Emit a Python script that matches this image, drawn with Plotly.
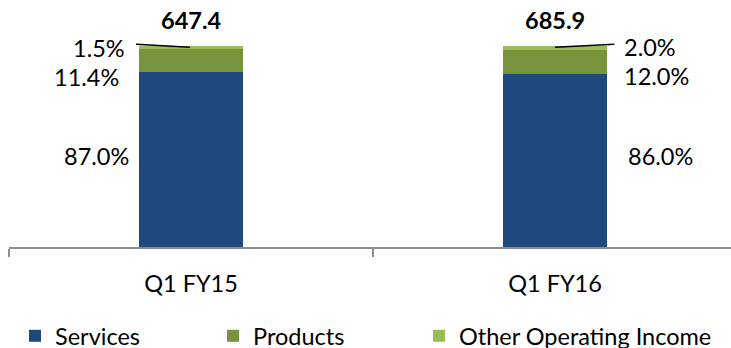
import plotly.graph_objects as go

# Revenue mix by quarter (share of total, %)
categories = ["Q1 FY15", "Q1 FY16"]
services = [87.0, 86.0]
products = [11.4, 12.0]
other_income = [1.5, 2.0]
totals = [647.4, 685.9]

COLORS = {"Services": "#1F497D", "Products": "#77933C", "Other Operating Income": "#9BBB59"}
FONT = "Lato"
FS = 23.5
BAR_W = 0.286

series = [("Services", services, "legend"),
          ("Products", products, "legend2"),
          ("Other Operating Income", other_income, "legend3")]

fig = go.Figure()
for name, vals, leg in series:
    fig.add_trace(go.Bar(
        x=categories, y=vals, name=name, width=BAR_W, legend=leg,
        marker=dict(color=COLORS[name], line=dict(width=0)),
        hoverinfo="skip",
    ))

annotations = []
# Totals above each stack
for i, t in enumerate(totals):
    top = services[i] + products[i] + other_income[i]
    annotations.append(dict(
        x=i, y=top, xref="x", yref="y", text=f"<b>{t:.1f}</b>", showarrow=False,
        yanchor="middle", yshift=26, font=dict(family=FONT, size=FS, color="#000"),
    ))

# Segment percentage labels: left of first bar, right of second bar
# (xshift, yshift) per segment: services, products, other
offsets = [
    [(-8, 4), (-18, -16), (-12, 0)],
    [(19, 5), (15, -14), (15, 1)],
]
for i in range(len(categories)):
    segs = [services[i], products[i], other_income[i]]
    base = 0.0
    for j, v in enumerate(segs):
        mid = base + v / 2
        base += v
        dx, dy = offsets[i][j]
        if i == 0:
            xpos, anchor = i - BAR_W / 2, "right"
        else:
            xpos, anchor = i + BAR_W / 2, "left"
        annotations.append(dict(
            x=xpos, y=mid, xref="x", yref="y", text=f"{v:.1f}%", showarrow=False,
            xanchor=anchor, yanchor="middle", xshift=dx, yshift=dy,
            font=dict(family=FONT, size=FS, color="#000"),
        ))

# Leader lines for the thin top segments
shapes = [
    dict(type="line", xref="x", yref="y", x0=-BAR_W / 2 - 0.008, y0=101.0,
         x1=-0.003, y1=99.5, line=dict(color="#000", width=1.6)),
    dict(type="line", xref="x", yref="y", x0=1.0, y0=99.5,
         x1=1 + BAR_W / 2 + 0.02, y1=101.0, line=dict(color="#000", width=1.6)),
]

PLOT_W = 722


def legend_at(px_left):
    return dict(
        orientation="h", x=(px_left - 9) / PLOT_W, xanchor="left", y=-0.43, yanchor="middle",
        font=dict(family=FONT, size=FS, color="#000"), itemwidth=30,
        bgcolor="rgba(0,0,0,0)",
    )


fig.update_layout(
    barmode="stack",
    width=731, height=348,
    margin=dict(l=9, r=0, t=40, b=101, autoexpand=False),
    paper_bgcolor="white", plot_bgcolor="white",
    font=dict(family=FONT, size=FS, color="#000"),
    annotations=annotations,
    shapes=shapes,
    showlegend=True,
    legend=legend_at(15),
    legend2=legend_at(213),
    legend3=legend_at(419),
    xaxis=dict(
        type="category", range=[-0.5, 1.4835], showgrid=False, zeroline=False,
        showline=True, linecolor="#8C8C8C", linewidth=1.5,
        ticks="outside", tickson="boundaries", ticklen=8, tickcolor="#8C8C8C", tickwidth=1.5,
        tickfont=dict(family=FONT, size=FS, color="#000"),
        ticklabelstandoff=15,
        fixedrange=True,
    ),
    yaxis=dict(range=[0, 103.1], visible=False, fixedrange=True),
)

fig.write_html("out.html", config={"displayModeBar": False})
